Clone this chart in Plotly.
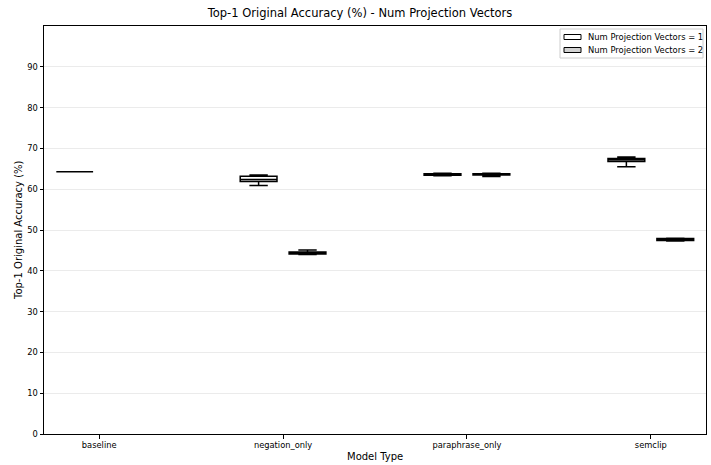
import plotly.graph_objects as go

categories = ["baseline", "negation_only", "paraphrase_only", "semclip"]
y_ticks = [0, 10, 20, 30, 40, 50, 60, 70, 80, 90]
series_names = ["Num Projection Vectors = 1", "Num Projection Vectors = 2"]
series_fills = ["white", "lightgray"]

# Num Projection Vectors = 1
s1_cats = ["baseline", "negation_only", "paraphrase_only", "semclip"]
s1_lower = [64.3, 60.9, 63.3, 65.5]
s1_q1 = [64.3, 61.9, 63.4, 66.8]
s1_median = [64.3, 62.4, 63.6, 67.2]
s1_q3 = [64.3, 63.2, 63.8, 67.5]
s1_upper = [64.3, 63.5, 63.9, 67.9]

# Num Projection Vectors = 2
s2_cats = ["negation_only", "paraphrase_only", "semclip"]
s2_lower = [44.0, 63.1, 47.3]
s2_q1 = [44.1, 63.5, 47.4]
s2_median = [44.3, 63.6, 47.7]
s2_q3 = [44.6, 63.8, 47.9]
s2_upper = [45.1, 63.9, 48.0]

offset = 0.133
font = "DejaVu Sans"

def pos(cats, off):
    return [categories.index(c) + off for c in cats]

fig = go.Figure()
fig.add_trace(go.Box(
    name=series_names[0],
    x=pos(s1_cats, -offset), lowerfence=s1_lower, q1=s1_q1, median=s1_median,
    q3=s1_q3, upperfence=s1_upper, width=0.2, whiskerwidth=0.5,
    fillcolor=series_fills[0], line=dict(color="black", width=1.5), boxpoints=False,
))
fig.add_trace(go.Box(
    name=series_names[1],
    x=pos(s2_cats, offset), lowerfence=s2_lower, q1=s2_q1, median=s2_median,
    q3=s2_q3, upperfence=s2_upper, width=0.2, whiskerwidth=0.5,
    fillcolor=series_fills[1], line=dict(color="black", width=1.5), boxpoints=False,
))

W, H = 711, 465
L, R, T, B = 44, 5, 26, 31
pw, ph = W - L - R, H - T - B

def px(x):
    return (x - L) / pw

def py(y):
    return 1 - (y - T) / ph

shapes = []
annotations = []
# custom legend (matplotlib style)
shapes.append(dict(type="rect", xref="paper", yref="paper",
                   x0=px(560), x1=px(703), y0=py(58), y1=py(29),
                   line=dict(color="#cccccc", width=1), fillcolor="rgba(255,255,255,0.8)", layer="above"))
for i, (nm, fc) in enumerate(zip(series_names, series_fills)):
    yc = 37 + i * 13
    shapes.append(dict(type="rect", xref="paper", yref="paper",
                       x0=px(564), x1=px(581), y0=py(yc + 2.5), y1=py(yc - 2.5),
                       line=dict(color="black", width=1), fillcolor=fc, layer="above"))
    annotations.append(dict(text=nm, xref="paper", yref="paper", x=px(586), y=py(yc),
                            xanchor="left", yanchor="middle", showarrow=False,
                            font=dict(size=8.4, family=font, color="black")))

# axis titles
annotations.append(dict(text="Model Type", xref="paper", yref="paper", x=0.5, y=py(456),
                        xanchor="center", yanchor="middle", showarrow=False,
                        font=dict(size=10, family=font, color="black")))
annotations.append(dict(text="Top-1 Original Accuracy (%)", xref="paper", yref="paper",
                        x=px(18), y=0.5, xanchor="center", yanchor="middle", showarrow=False,
                        textangle=-90, font=dict(size=10, family=font, color="black")))

fig.update_layout(
    width=W, height=H,
    margin=dict(l=L, r=R, t=T, b=B),
    paper_bgcolor="white", plot_bgcolor="white",
    font=dict(family=font, color="black", size=9),
    title=dict(text="Top-1 Original Accuracy (%) - Num Projection Vectors",
               xref="paper", x=px(360), xanchor="center", y=1 - 13 / H, yanchor="middle",
               font=dict(size=11.5, family=font, color="black")),
    showlegend=False,
    shapes=shapes,
    annotations=annotations,
    xaxis=dict(range=[-0.3, 3.3], tickmode="array", tickvals=list(range(len(categories))),
               ticktext=categories, showgrid=False, zeroline=False, automargin=False,
               showline=True, linecolor="black", linewidth=1, mirror=True,
               ticks="outside", ticklen=3.5, tickcolor="black",
               tickfont=dict(size=8.3)),
    yaxis=dict(range=[0, 100], tickmode="array", tickvals=y_ticks,
               showgrid=True, gridcolor="#ebebeb", gridwidth=1, zeroline=False, automargin=False,
               showline=True, linecolor="black", linewidth=1, mirror=True,
               ticks="outside", ticklen=3.5, tickcolor="black",
               tickfont=dict(size=8.3)),
)

fig.write_html("out.html", config={"displayModeBar": False},
               post_script="document.body.style.margin='0';")
